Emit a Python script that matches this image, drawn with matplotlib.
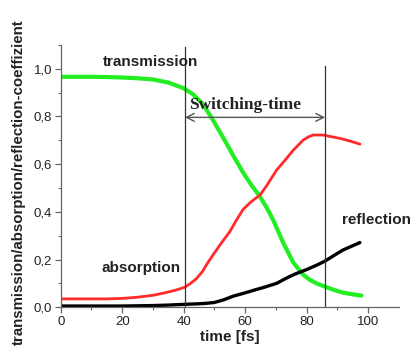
import matplotlib
matplotlib.use("Agg")
import matplotlib.pyplot as plt

# --- data ---
t_x = [0, 5, 10, 15, 20, 25, 30, 35, 40, 43, 46, 49, 52.8, 56.1, 59.3, 62, 64.8, 67, 69.1,
       72.3, 75.6, 78.8, 81, 83.2, 86.4, 89, 91.8, 95, 97.8]
t_y = [0.966, 0.966, 0.966, 0.965, 0.963, 0.960, 0.955, 0.942, 0.918, 0.893, 0.855, 0.796,
       0.712, 0.636, 0.565, 0.512, 0.464, 0.417, 0.366, 0.272, 0.188, 0.137, 0.115, 0.10, 0.084,
       0.072, 0.061, 0.054, 0.049]

a_x = [0, 5, 10, 15, 20, 25, 30, 33, 36, 38, 40.4, 42, 44, 46, 48, 50, 52, 55, 57, 59.3, 62,
       64.8, 67, 70.2, 73, 75.6, 78.8, 80.5, 82.1, 85.3, 88, 90.8, 94, 97.3]
a_y = [0.035, 0.035, 0.035, 0.035, 0.037, 0.042, 0.05, 0.058, 0.067, 0.074, 0.084, 0.098, 0.118,
       0.148, 0.19, 0.228, 0.265, 0.317, 0.362, 0.41, 0.443, 0.47, 0.51, 0.575, 0.617, 0.658,
       0.70, 0.714, 0.722, 0.722, 0.715, 0.708, 0.697, 0.684]

r_x = [0, 10, 20, 30, 35, 40, 44, 47, 50, 53, 56, 59.9, 63, 66, 70.2, 73.4, 76, 78.8, 80,
       83, 85.9, 88, 91.8, 95, 97.3]
r_y = [0.005, 0.005, 0.005, 0.007, 0.009, 0.012, 0.014, 0.016, 0.02, 0.031, 0.046, 0.06,
       0.072, 0.083, 0.10, 0.122, 0.138, 0.152, 0.158, 0.175, 0.193, 0.21, 0.24, 0.258, 0.271]

switch_start, switch_end = 40.4, 86.0
arrow_y = 0.796

xticks = [0, 20, 40, 60, 80, 100]
yticks = [0.0, 0.2, 0.4, 0.6, 0.8, 1.0]
ytick_labels = ["0,0", "0,2", "0,4", "0,6", "0,8", "1,0"]

plt.rcParams['font.family'] = ['Liberation Sans', 'DejaVu Sans']

fig = plt.figure(figsize=(4.11, 3.56), dpi=100)
ax = fig.add_axes([0.1477, 0.137, 0.823, 0.737])

ax.plot(t_x, t_y, color='#22ee22', lw=3.0, solid_capstyle='round', solid_joinstyle='round')
ax.plot(a_x, a_y, color='#ff2a2a', lw=2.0, solid_capstyle='round', solid_joinstyle='round')
ax.plot(r_x, r_y, color='black', lw=2.4, solid_capstyle='round', solid_joinstyle='round')

ax.plot([switch_start, switch_start], [0, 1.09], color='#333333', lw=0.9)
ax.plot([switch_end, switch_end], [0, 1.01], color='#333333', lw=0.9)
ax.annotate('', xy=(switch_end, arrow_y), xytext=(switch_start, arrow_y),
            arrowprops=dict(arrowstyle='<->', color='#555555', lw=1.0,
                            shrinkA=0, shrinkB=0, mutation_scale=14))
ax.text(60, 0.848, 'Switching-time', family='Liberation Serif', fontweight='bold',
        fontsize=12.5, ha='center', va='center', color='#222222')

ax.text(29.2, 1.027, 'transmission', fontweight='bold', fontsize=11, ha='center', va='center', color='#222222')
ax.text(26, 0.166, 'absorption', fontweight='bold', fontsize=11, ha='center', va='center', color='#222222')
ax.text(102.7, 0.366, 'reflection', fontweight='bold', fontsize=11, ha='center', va='center', color='#222222')

ax.set_xlim(0, 110)
ax.set_ylim(0, 1.1)
ax.set_xticks(xticks)
ax.set_xticks(range(10, 110, 20), minor=True)
ax.set_yticks(yticks)
ax.set_yticklabels(ytick_labels)
ax.set_yticks([0.1, 0.3, 0.5, 0.7, 0.9, 1.1], minor=True)
for s in ['top', 'right']:
    ax.spines[s].set_visible(False)
for s in ['left', 'bottom']:
    ax.spines[s].set_color('#666666')
    ax.spines[s].set_linewidth(0.9)
ax.tick_params(which='major', length=4, width=0.9, color='#666666', labelsize=9.5,
               labelcolor='#222222', pad=2)
ax.tick_params(which='minor', length=2.5, width=0.8, color='#666666')

ax.set_xlabel('time [fs]', fontweight='bold', fontsize=11, color='#222222', labelpad=2)
fig.text(0.045, 0.489, 'transmission/absorption/reflection-coeffizient', rotation=90,
         fontweight='bold', fontsize=10.8, ha='center', va='center', color='#222222')

fig.savefig('out.png', dpi=100)
